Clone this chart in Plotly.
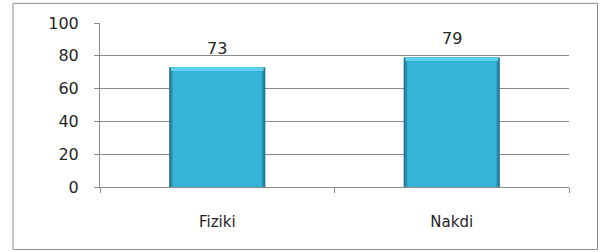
import plotly.graph_objects as go

categories = ["Fiziki", "Nakdi"]
values = [73, 79]
y_ticks = [0, 20, 40, 60, 80, 100]

FONT = "DejaVu Sans"
GRAY = "#8c8c8c"
TEXT = "#262626"

fig = go.Figure()
# dark edge of the bar
fig.add_trace(go.Bar(x=categories, y=values, width=0.41,
                     marker=dict(color="#1E7596", line=dict(width=0)),
                     hoverinfo="skip", showlegend=False))
# mid edge
fig.add_trace(go.Bar(x=categories, y=values, width=0.395,
                     marker=dict(color="#2A93B8", line=dict(width=0)),
                     hoverinfo="skip", showlegend=False))
# lighter body
fig.add_trace(go.Bar(x=categories, y=values, width=0.38,
                     marker=dict(color="#37B3D7", line=dict(width=0)),
                     showlegend=False))
# top highlight band
fig.add_trace(go.Bar(x=categories, y=[2.2] * len(values), base=[v - 2.2 for v in values],
                     width=0.395,
                     marker=dict(color="#5DD2F0", line=dict(width=0)),
                     hoverinfo="skip", showlegend=False))

for c, v in zip(categories, values):
    fig.add_annotation(x=c, y=v, text=str(v), showarrow=False,
                       yanchor="bottom", yshift=7,
                       font=dict(family=FONT, size=16, color=TEXT))

fig.update_layout(
    width=602, height=252,
    margin=dict(l=100, r=33, t=23, b=65),
    paper_bgcolor="white", plot_bgcolor="white",
    barmode="overlay",
    xaxis=dict(type="category", showgrid=False, showline=True, linecolor=GRAY, linewidth=1,
               ticks="outside", tickson="boundaries", ticklen=5, tickcolor=GRAY,
               tickfont=dict(family=FONT, size=15, color=TEXT), ticklabelstandoff=21),
    yaxis=dict(range=[0, 100], tickvals=y_ticks, showgrid=True, gridcolor=GRAY, gridwidth=1,
               showline=True, linecolor=GRAY, linewidth=1, zeroline=False,
               ticks="outside", ticklen=5, tickcolor=GRAY,
               tickfont=dict(family=FONT, size=16, color=TEXT), ticklabelstandoff=12),
    shapes=[dict(type="rect", xref="paper", yref="paper",
                 x0=-0.1855, x1=1.0608, y0=-0.381, y1=1.1197,
                 line=dict(color=GRAY, width=1), fillcolor="rgba(0,0,0,0)", layer="below")],
)

fig.write_html("out.html", config={"displayModeBar": False},
               post_script="document.body.style.margin='0';document.body.style.overflow='hidden';")
